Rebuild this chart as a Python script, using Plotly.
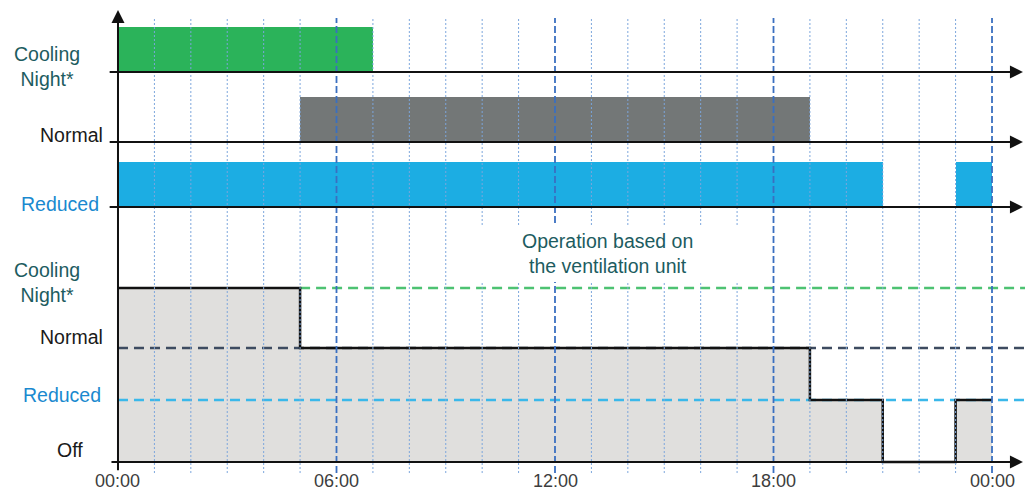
import plotly.graph_objects as go

# ---------------- data ----------------
TICK_HOURS = [0, 6, 12, 18, 24]
TICK_LABELS = ["00:00", "06:00", "12:00", "18:00", "00:00"]
GRID_HOURS = list(range(1, 25))

cooling_periods = [(0, 7)]
normal_periods = [(5, 19)]
reduced_periods = [(0, 21), (23, 24)]

step_times = [0, 5, 19, 21, 23, 24]
step_states = ["Cooling Night*", "Normal", "Reduced", "Off", "Reduced", "Reduced"]

NOTE_TEXT = "Operation based on<br>the ventilation unit"

# ---------------- layout helpers (positions/styles) ----------------
LEVEL_POS = {"Off": 0.0, "Reduced": 1.069, "Normal": 1.966, "Cooling Night*": 3.0}
ROW_POS = {"Reduced": 0.0, "Normal": 0.963, "Cooling Night*": 2.0}
BAR_H = 0.667

X_RANGE = [-3.240, 24.906]
Y_RANGE = [-0.5345, 7.9655]
Y2_RANGE = [-4.237, 3.0667]

FONT = "Liberation Sans, Arial, sans-serif"
TEAL = "#1d5c5f"
BLUE_TXT = "#1a89cf"
GREEN = "#2bb35a"
GRAY = "#737777"
BLUE = "#1cade3"

fig = go.Figure()

# ---- top panel bars ----
def add_bars(periods, row, color):
    for s, e in periods:
        fig.add_trace(go.Bar(
            orientation="h", y=[ROW_POS[row] + BAR_H / 2], x=[e - s], base=[s],
            width=BAR_H, marker=dict(color=color, line=dict(width=0)),
            yaxis="y2", hoverinfo="skip"))

add_bars(cooling_periods, "Cooling Night*", GREEN)
add_bars(normal_periods, "Normal", GRAY)
add_bars(reduced_periods, "Reduced", BLUE)

# ---- bottom panel ----
step_y = [LEVEL_POS[s] for s in step_states]
fig.add_trace(go.Scatter(x=step_times, y=step_y, mode="lines", line_shape="hv",
                         line=dict(width=0), fill="tozeroy", fillcolor="#e0dfdd",
                         hoverinfo="skip"))

x_end = X_RANGE[1]
cool_end = next(t for t, s in zip(step_times, step_states) if s != "Cooling Night*")
ref_lines = [
    ("Cooling Night*", cool_end, "#4dc272"),
    ("Normal", step_times[0], "#3d4b60"),
    ("Reduced", step_times[0], "#3ab8ea"),
]
for st, x0, col in ref_lines:
    fig.add_trace(go.Scatter(x=[x0, x_end], y=[LEVEL_POS[st]] * 2, mode="lines",
                             line=dict(color=col, width=2.4, dash="10px,6px"),
                             hoverinfo="skip"))

fig.add_trace(go.Scatter(x=step_times, y=step_y, mode="lines", line_shape="hv",
                         line=dict(color="#111111", width=2.5), hoverinfo="skip"))

# ---- grid lines ----
shapes = []
for h in GRID_HOURS:
    major = h % 6 == 0
    shapes.append(dict(
        type="line", xref="x", yref="y", x0=h, x1=h, y0=-0.19, y1=7.655,
        line=dict(color="#3a6fc0" if major else "#7ca6dc",
                  width=1.8 if major else 1, dash="7px,3px" if major else "2px,2px"),
        layer="above"))
# white box behind the note
shapes.append(dict(type="rect", xref="x", yref="y", x0=9.666, x1=17.22,
                   y0=3.103, y1=4.086, fillcolor="white", line=dict(width=0),
                   layer="above"))

annotations = []
# axes arrows
for r in ["Cooling Night*", "Normal", "Reduced"]:
    annotations.append(dict(x=24.85, y=ROW_POS[r], xref="x", yref="y2",
                            ax=-0.27, ay=ROW_POS[r], axref="x", ayref="y2",
                            text="", showarrow=True, arrowhead=2, arrowsize=1.3,
                            arrowwidth=2, arrowcolor="#111111", standoff=0))
annotations.append(dict(x=24.85, y=0, xref="x", yref="y", ax=-0.22, ay=0,
                        axref="x", ayref="y", text="", showarrow=True, arrowhead=2,
                        arrowsize=1.3, arrowwidth=2, arrowcolor="#111111", standoff=0))
annotations.append(dict(x=0, y=7.793, xref="x", yref="y", ax=0, ay=-0.17,
                        axref="x", ayref="y", text="", showarrow=True, arrowhead=2,
                        arrowsize=1.3, arrowwidth=2, arrowcolor="#111111", standoff=0))

# tick labels
for h, lab in zip(TICK_HOURS, TICK_LABELS):
    annotations.append(dict(x=h, y=-0.328, xref="x", yref="y", text=lab,
                            showarrow=False, xanchor="center", yanchor="middle",
                            font=dict(family=FONT, size=18, color="#3d3d3d")))

# state labels
LABEL_STYLE = {
    "Cooling Night*": (47, 6, TEAL, "Cooling<br>Night*"),
    "Normal": (71, 7, "#1a1a1a", "Normal"),
    "Reduced": (60, 3, BLUE_TXT, "Reduced"),
}
for r, (px, dy, col, txt) in LABEL_STYLE.items():
    annotations.append(dict(x=px / 1025, y=ROW_POS[r], xref="paper", yref="y2",
                            text=txt, showarrow=False, xanchor="center",
                            yanchor="middle", yshift=dy, align="center",
                            font=dict(family=FONT, size=19.5, color=col)))
BOTTOM_STYLE = {
    "Cooling Night*": (47, 6, TEAL, "Cooling<br>Night*"),
    "Normal": (71, 11, "#1a1a1a", "Normal"),
    "Reduced": (62, 5, BLUE_TXT, "Reduced"),
    "Off": (70, 12, "#1a1a1a", "Off"),
}
for st, (px, dy, col, txt) in BOTTOM_STYLE.items():
    annotations.append(dict(x=px / 1025, y=LEVEL_POS[st], xref="paper", yref="y",
                            text=txt, showarrow=False, xanchor="center",
                            yanchor="middle", yshift=dy, align="center",
                            font=dict(family=FONT, size=19.5, color=col)))

annotations.append(dict(x=13.44, y=3.6, xref="x", yref="y", text=NOTE_TEXT,
                        showarrow=False, xanchor="center", yanchor="middle",
                        align="center", font=dict(family=FONT, size=19.5, color=TEAL)))

fig.update_layout(
    width=1025, height=493, margin=dict(l=0, r=0, t=0, b=0),
    paper_bgcolor="white", plot_bgcolor="white", showlegend=False,
    barmode="overlay", bargap=0,
    xaxis=dict(range=X_RANGE, visible=False, fixedrange=True),
    yaxis=dict(range=Y_RANGE, visible=False, fixedrange=True),
    yaxis2=dict(range=Y2_RANGE, visible=False, overlaying="y", fixedrange=True),
    shapes=shapes, annotations=annotations,
)

fig.write_html("out.html", post_script="document.body.style.margin='0px';",
               config={"displayModeBar": False})
